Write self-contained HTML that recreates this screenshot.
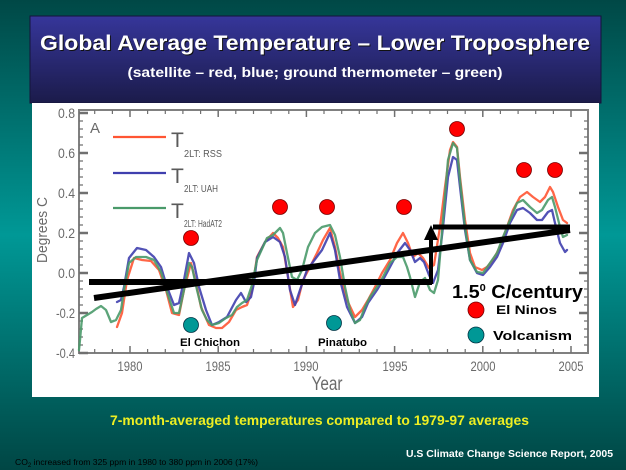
<!DOCTYPE html>
<html><head><meta charset="utf-8"><style>
html,body{margin:0;padding:0;width:626px;height:470px;overflow:hidden;background:#006a68;}
svg{display:block;}
</style></head><body>
<svg width="626" height="470" viewBox="0 0 626 470" xmlns="http://www.w3.org/2000/svg">
<defs>
<linearGradient id="bg" x1="0" y1="0" x2="0" y2="1">
<stop offset="0" stop-color="#004846"/>
<stop offset="0.5" stop-color="#009896"/>
<stop offset="1" stop-color="#004644"/>
</linearGradient>
<linearGradient id="tb" x1="0" y1="0" x2="0" y2="1">
<stop offset="0" stop-color="#36369a"/>
<stop offset="1" stop-color="#1b1b4a"/>
</linearGradient>
</defs>
<rect x="0" y="0" width="626" height="470" fill="url(#bg)"/>
<!-- title box -->
<rect x="30" y="16" width="571" height="87" fill="url(#tb)" stroke="#14143a" stroke-width="1"/>
<g font-family="Liberation Sans, Arial, sans-serif" font-weight="bold" text-anchor="middle">
<text x="316" y="51" font-size="21" fill="#111" textLength="550" lengthAdjust="spacingAndGlyphs">Global Average Temperature – Lower Troposphere</text>
<text x="315" y="50" font-size="21" fill="#fff" textLength="550" lengthAdjust="spacingAndGlyphs">Global Average Temperature – Lower Troposphere</text>
<text x="315" y="77" font-size="14" fill="#fff" textLength="375" lengthAdjust="spacingAndGlyphs">(satellite – red, blue; ground thermometer – green)</text>
</g>
<!-- white panel -->
<rect x="32" y="103" width="567" height="294" fill="#fff"/>
<!-- frame -->
<rect x="79" y="110" width="509" height="243" fill="none" stroke="#808080" stroke-width="2"/>
<!-- ticks -->
<g stroke="#707070" fill="none">
<path stroke-width="1.2" d="M79 121h4M79 129h4M79 137h4M79 145h4M79 161h4M79 169h4M79 177h4M79 185h4M79 201h4M79 209h4M79 217h4M79 225h4M79 241h4M79 249h4M79 257h4M79 265h4M79 281h4M79 289h4M79 297h4M79 305h4M79 321h4M79 329h4M79 337h4M79 345h4
M588 121h-4M588 129h-4M588 137h-4M588 145h-4M588 161h-4M588 169h-4M588 177h-4M588 185h-4M588 201h-4M588 209h-4M588 217h-4M588 225h-4M588 241h-4M588 249h-4M588 257h-4M588 265h-4M588 281h-4M588 289h-4M588 297h-4M588 305h-4M588 321h-4M588 329h-4M588 337h-4M588 345h-4"/>
<path stroke-width="2.6" d="M79 113h9M79 153h9M79 193h9M79 233h9M79 273h9M79 313h9M79 353h9M588 153h-9M588 193h-9M588 233h-9M588 273h-9M588 313h-9"/>
<path stroke-width="1.2" d="M94.7 353v-4M112.4 353v-4M147.6 353v-4M165.3 353v-4M182.9 353v-4M200.6 353v-4M235.8 353v-4M253.5 353v-4M271.1 353v-4M288.8 353v-4M324 353v-4M341.7 353v-4M359.3 353v-4M377 353v-4M412.2 353v-4M429.9 353v-4M447.5 353v-4M465.2 353v-4M500.4 353v-4M518.1 353v-4M535.7 353v-4M553.4 353v-4
M94.7 110v4M112.4 110v4M147.6 110v4M165.3 110v4M182.9 110v4M200.6 110v4M235.8 110v4M253.5 110v4M271.1 110v4M288.8 110v4M324 110v4M341.7 110v4M359.3 110v4M377 110v4M412.2 110v4M429.9 110v4M447.5 110v4M465.2 110v4M500.4 110v4M518.1 110v4M535.7 110v4M553.4 110v4"/>
<path stroke-width="1.5" d="M130 353v-7M218.2 353v-7M306.4 353v-7M394.6 353v-7M482.8 353v-7M571 353v-7M130 110v7M218.2 110v7M306.4 110v7M394.6 110v7M482.8 110v7M571 110v7"/>
</g>
<!-- axis labels -->
<g font-family="Liberation Sans, Arial, sans-serif" fill="#6a6a6a" font-size="14">
<g text-anchor="end">
<text x="75" y="118" textLength="17" lengthAdjust="spacingAndGlyphs">0.8</text>
<text x="75" y="158" textLength="17" lengthAdjust="spacingAndGlyphs">0.6</text>
<text x="75" y="198" textLength="17" lengthAdjust="spacingAndGlyphs">0.4</text>
<text x="75" y="238" textLength="17" lengthAdjust="spacingAndGlyphs">0.2</text>
<text x="75" y="278" textLength="17" lengthAdjust="spacingAndGlyphs">0.0</text>
<text x="75" y="318" textLength="19" lengthAdjust="spacingAndGlyphs">-0.2</text>
<text x="75" y="358" textLength="19" lengthAdjust="spacingAndGlyphs">-0.4</text>
</g>
<g text-anchor="middle">
<text x="130" y="371" textLength="25" lengthAdjust="spacingAndGlyphs">1980</text>
<text x="218" y="371" textLength="25" lengthAdjust="spacingAndGlyphs">1985</text>
<text x="306" y="371" textLength="25" lengthAdjust="spacingAndGlyphs">1990</text>
<text x="395" y="371" textLength="25" lengthAdjust="spacingAndGlyphs">1995</text>
<text x="483" y="371" textLength="25" lengthAdjust="spacingAndGlyphs">2000</text>
<text x="571" y="371" textLength="25" lengthAdjust="spacingAndGlyphs">2005</text>
<text x="327" y="390" font-size="19" textLength="31" lengthAdjust="spacingAndGlyphs">Year</text>
<text transform="translate(47,230) rotate(-90)" font-size="15" textLength="66" lengthAdjust="spacingAndGlyphs">Degrees C</text>
</g>
<text x="90" y="133" font-size="15">A</text>
</g>
<!-- legend -->
<g stroke-width="2.2" fill="none">
<line x1="113" y1="137" x2="166" y2="137" stroke="#ff5533"/>
<line x1="113" y1="173" x2="166" y2="173" stroke="#3f3fae"/>
<line x1="113" y1="208" x2="166" y2="208" stroke="#4a9a6a"/>
</g>
<g font-family="Liberation Sans, Arial, sans-serif" fill="#5a5a5a">
<text x="171" y="147" font-size="21">T</text>
<text x="184" y="157" font-size="10" textLength="38" lengthAdjust="spacingAndGlyphs">2LT: RSS</text>
<text x="171" y="183" font-size="21">T</text>
<text x="184" y="192" font-size="10" textLength="34" lengthAdjust="spacingAndGlyphs">2LT: UAH</text>
<text x="171" y="218" font-size="21">T</text>
<text x="184" y="227" font-size="10" textLength="38" lengthAdjust="spacingAndGlyphs">2LT: HadAT2</text>
</g>
<!-- data series -->
<g fill="none" stroke-width="2.3" stroke-linejoin="round" stroke-linecap="round">
<polyline stroke="#ff5533" stroke-opacity="0.9" points="117,327 122,313 127,280 134,258 142,260 151,261 159,270 166,290 172,313 179,315 184,290 191,263 196,283 201,307 209,325 216,328 222,328 229,322 236,310 242,307 247,305 252,290 257,257 265,242 273,233 278,238 283,247 288,277 293,307 298,300 303,280 310,267 317,253 323,240 330,228 335,247 340,273 347,300 355,317 362,310 368,300 375,287 382,273 390,260 397,243 403,233 408,243 413,257 418,253 423,258 429,268 434,265 440,227 445,187 450,150 453,142 457,147 460,177 465,220 470,253 475,267 482,270 487,267 493,260 500,247 507,227 513,210 520,197 527,192 533,197 540,202 545,197 550,187 553,192 558,207 563,220 567,223"/>
<polyline stroke="#3f3fae" stroke-opacity="0.9" points="117,302 121,300 124,287 129,258 137,248 146,250 154,257 161,267 167,287 174,305 179,303 184,280 189,253 194,263 199,287 206,310 212,325 219,322 227,317 236,300 241,293 246,302 251,297 254,283 257,258 265,242 273,237 280,242 285,257 290,290 295,305 300,290 307,270 313,262 322,250 330,233 335,250 340,280 347,307 355,323 362,317 368,303 377,290 383,280 390,267 398,252 405,243 410,250 415,262 420,258 424,262 429,275 433,283 438,270 443,227 448,177 453,157 457,160 460,187 465,230 470,260 477,273 483,275 490,267 497,257 503,243 510,223 517,210 523,208 530,213 537,220 542,220 548,212 552,210 555,223 560,243 565,252 567,250"/>
<polyline stroke="#4a9a6a" stroke-opacity="0.9" points="79,350 80,340 82,318 87,315 92,312 96,309 101,306 106,310 111,322 116,320 121,310 124,290 129,263 136,257 146,257 154,260 161,272 167,292 174,313 179,313 184,290 189,263 192,267 197,290 202,310 207,320 212,325 219,323 226,318 232,315 237,307 242,303 247,300 252,285 257,260 267,238 273,235 280,228 283,233 287,253 292,277 297,280 302,270 308,247 315,233 322,227 330,225 335,235 340,257 345,287 350,310 355,323 360,320 365,307 370,297 377,287 383,277 390,263 397,257 403,257 407,267 410,277 415,297 420,282 425,278 430,290 434,293 438,280 443,220 448,160 453,143 457,148 460,180 465,227 470,260 477,272 483,273 490,263 497,253 503,237 510,220 517,203 523,200 530,207 537,213 542,210 548,200 552,197 555,207 560,227 563,237 567,235"/>
</g>
<!-- black annotation lines -->
<g stroke="#000" fill="none">
<line x1="89" y1="282" x2="432" y2="282" stroke-width="6"/>
<line x1="431" y1="284" x2="431" y2="236" stroke-width="4"/>
<line x1="433" y1="227" x2="570" y2="227" stroke-width="5"/>
<line x1="94" y1="298" x2="570" y2="230" stroke-width="6"/>
</g>
<polygon points="431,225 424,240 438,240" fill="#000"/>
<!-- El Nino dots -->
<g fill="#ff0000" stroke="#700" stroke-width="0.8">
<circle cx="191" cy="238" r="7.5"/>
<circle cx="280" cy="207" r="7.5"/>
<circle cx="327" cy="207" r="7.5"/>
<circle cx="404" cy="207" r="7.5"/>
<circle cx="457" cy="129" r="7.5"/>
<circle cx="524" cy="170" r="7.5"/>
<circle cx="555" cy="170" r="7.5"/>
<circle cx="476" cy="310" r="8"/>
</g>
<g fill="#009896" stroke="#034" stroke-width="0.8">
<circle cx="191" cy="325" r="7.5"/>
<circle cx="334" cy="323" r="7.5"/>
<circle cx="476" cy="335" r="8"/>
</g>
<g font-family="Liberation Sans, Arial, sans-serif" font-weight="bold" fill="#000">
<text x="180" y="346" font-size="11" textLength="60" lengthAdjust="spacingAndGlyphs">El Chichon</text>
<text x="318" y="346" font-size="11" textLength="49" lengthAdjust="spacingAndGlyphs">Pinatubo</text>
<text x="452" y="298" font-size="18" textLength="131" lengthAdjust="spacingAndGlyphs">1.5<tspan font-size="10" dy="-7">0</tspan><tspan dy="7"> C/century</tspan></text>
<text x="496" y="314" font-size="12" textLength="61" lengthAdjust="spacingAndGlyphs">El Ninos</text>
<text x="493" y="340" font-size="13" textLength="79" lengthAdjust="spacingAndGlyphs">Volcanism</text>
</g>
<!-- bottom texts -->
<g font-family="Liberation Sans, Arial, sans-serif">
<text x="110" y="425" font-size="14" font-weight="bold" fill="#eeee22" textLength="419" lengthAdjust="spacingAndGlyphs">7-month-averaged  temperatures compared to 1979-97 averages</text>
<text x="406" y="457" font-size="10" font-weight="bold" fill="#fff" textLength="207" lengthAdjust="spacingAndGlyphs">U.S Climate Change Science Report, 2005</text>
<text x="15" y="465" font-size="8.5" fill="#000" textLength="243" lengthAdjust="spacingAndGlyphs">CO<tspan font-size="6" dy="2">2</tspan><tspan dy="-2"> increased from 325 ppm in 1980 to 380 ppm in 2006 (17%)</tspan></text>
</g>
</svg>
</body></html>
